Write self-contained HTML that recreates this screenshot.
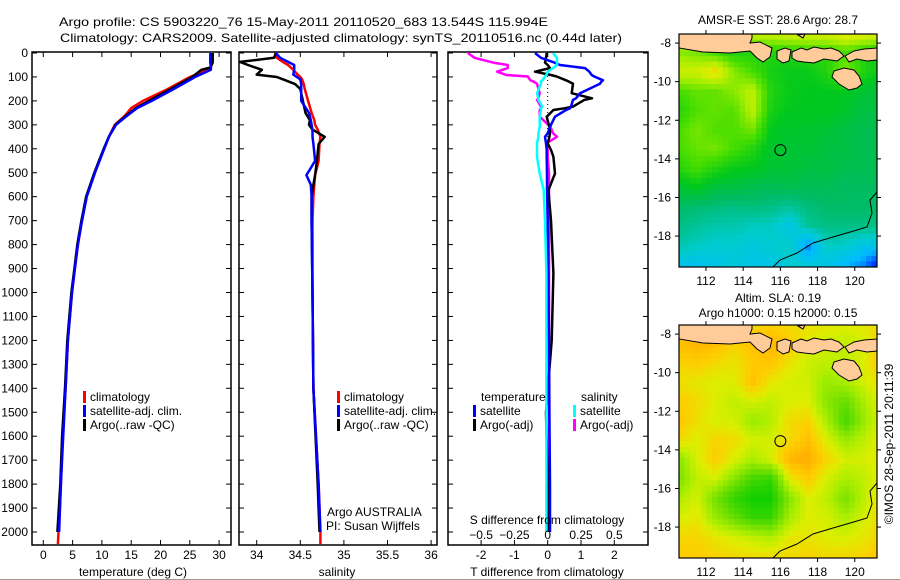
<!DOCTYPE html>
<html><head><meta charset="utf-8"><style>
html,body{margin:0;padding:0;background:#fff;}
svg{display:block;font-family:"Liberation Sans",sans-serif;font-size:12px;}
</style></head><body>
<svg id="fig" width="900" height="580" viewBox="0 0 900 580">
<defs>
<clipPath id="c1"><rect x="32" y="52" width="199" height="493"/></clipPath>
<clipPath id="c2"><rect x="239" y="52" width="198" height="493"/></clipPath>
<clipPath id="c3"><rect x="448" y="52" width="200" height="493"/></clipPath>
</defs>
<text x="59" y="26" textLength="489" lengthAdjust="spacingAndGlyphs">Argo profile: CS 5903220_76 15-May-2011 20110520_683 13.544S 115.994E</text>
<text x="60" y="42" textLength="562" lengthAdjust="spacingAndGlyphs">Climatology: CARS2009. Satellite-adjusted climatology: synTS_20110516.nc (0.44d later)</text>
<g id="g1"></g>
<g id="g2"></g>
<g id="g3"></g>
<g id="m1"></g>
<g id="m2"></g>
<text x="897" y="448" text-anchor="middle" transform="rotate(-90 893 448)">©IMOS 28-Sep-2011 20:11:39</text>
<line x1="0" y1="579.5" x2="900" y2="579.5" stroke="#999"/>
</svg>
<script>
// ---- data ----
const depthLevels=[0,20,40,60,70,100,150,200,230,260,300,350,400,450,500,600,700,800,900,1000,1200,1400,1600,1800,2000,2050];
const tempClim=[28.8,28.8,28.8,28.6,28.2,25.0,21.3,17.0,15.0,14.0,12.2,11.2,10.4,9.5,8.8,7.4,6.6,5.9,5.4,4.9,4.2,3.8,3.3,3.0,2.6,2.5];
const tempSat=[28.5,28.5,28.5,28.6,28.6,25.9,22.3,18.5,16.0,14.4,12.4,11.2,10.4,9.6,8.8,7.4,6.6,5.9,5.4,4.9,4.2,3.8,3.4,3.0,2.7];
const tempArgo=[28.9,28.9,28.9,28.5,27.0,25.4,21.8,18.0,15.8,14.2,12.3,11.2,10.3,9.5,8.7,7.3,6.5,5.8,5.3,4.8,4.1,3.7,3.2,2.9,2.4];
const salDepth=[0,20,37,50,70,90,100,110,130,150,200,250,280,300,320,350,380,450,480,510,550,600,700,1000,1400,1800,2000,2050];
const salClim=[34.21,34.23,34.3,34.36,34.42,34.47,34.5,34.52,34.54,34.55,34.59,34.63,34.66,34.67,34.7,34.73,34.72,34.71,34.69,34.67,34.66,34.65,34.64,34.64,34.65,34.71,34.73,34.73];
const salSat=[34.22,34.27,34.36,34.43,34.43,34.42,34.46,34.5,34.51,34.51,34.51,34.6,34.62,34.63,34.64,34.64,34.65,34.67,34.62,34.57,34.62,34.63,34.63,34.64,34.65,34.71,34.73];
const salArgo=[34.22,34.2,33.81,33.9,34.06,34.0,34.23,34.3,34.44,34.5,34.53,34.56,34.61,34.6,34.64,34.78,34.71,34.69,34.68,34.67,34.65,34.63,34.63,34.64,34.65,34.7,34.72];
const diffDepth=[0,20,40,50,63,78,92,98,114,118,128,168,189,196,224,231,238,266,308,335,350,377,405,433,503,573,700,920,1200,1500,1800,2000];
const dTsat=[-0.38,-0.2,0.2,0.37,1.12,1.25,1.32,1.4,1.66,1.62,1.57,0.97,0.85,0.76,0.7,0.67,0.55,0.22,0.07,0.0,-0.08,-0.05,-0.03,-0.03,-0.02,-0.02,0.0,0.02,0.04,0.05,0.07,0.07];
const dTargo=[-0.03,-0.05,-0.08,0.0,0.07,-0.38,0.1,0.27,0.55,0.62,0.76,0.72,1.33,1.1,0.76,0.5,0.17,-0.03,0.05,0.07,0.05,0.0,0.1,0.17,0.22,0.02,0.1,0.17,0.12,-0.05,0.0,0.0];
const dSsat=[0.04,0.07,0.07,0.07,0.04,0.0,-0.01,-0.02,-0.04,-0.05,-0.05,-0.08,-0.07,-0.07,-0.04,-0.05,-0.05,-0.06,-0.06,-0.07,-0.07,-0.08,-0.08,-0.08,-0.06,-0.03,-0.02,-0.01,-0.01,-0.01,-0.01,-0.01];
const dSargo=[-0.6,-0.55,-0.41,-0.3,-0.3,-0.38,-0.31,-0.15,-0.13,-0.11,-0.08,-0.06,-0.07,-0.08,-0.05,-0.05,-0.06,-0.06,0.02,0.04,0.07,-0.01,0.0,0.0,0.01,0.01,0.01,0.01,0.01,0.01,0.01,0.01];
const depthTicks=[0,100,200,300,400,500,600,700,800,900,1000,1100,1200,1300,1400,1500,1600,1700,1800,1900,2000];
const tempTicks=[0,5,10,15,20,25,30];
const salTicks=[34,34.5,35,35.5,36];
const dTTicks=[-2,-1,0,1,2];
const dSTicks=[-0.5,-0.25,0,0.25,0.5];
const lonTicks=[112,114,116,118,120];
const latTicks=[-8,-10,-12,-14,-16,-18];
const argoLon=116.0, argoLat=-13.544;
const sstTitle="AMSR-E SST: 28.6 Argo: 28.7";
const sstGrid=[
[.82,.82,.85,.82,.8,.8,.82,.82,.82,.85,.85,.82],
[.72,.7,.65,.6,.6,.6,.6,.62,.62,.65,.6,.58],
[.8,.8,.86,.72,.65,.58,.56,.56,.6,.72,.6,.55],
[.65,.68,.68,.72,.78,.6,.56,.55,.55,.55,.52,.5],
[.6,.66,.68,.66,.78,.58,.55,.55,.55,.53,.5,.5],
[.65,.7,.66,.66,.7,.55,.53,.53,.52,.5,.48,.48],
[.65,.68,.7,.65,.6,.53,.52,.52,.5,.5,.48,.48],
[.6,.65,.6,.56,.55,.52,.52,.5,.5,.48,.48,.47],
[.52,.55,.5,.5,.48,.47,.48,.47,.47,.46,.46,.46],
[.45,.44,.43,.42,.43,.42,.4,.43,.45,.45,.45,.45],
[.42,.4,.38,.38,.36,.36,.3,.4,.42,.42,.42,.42],
[.38,.36,.34,.34,.32,.34,.36,.2,.36,.35,.3,.3],
[.3,.28,.3,.32,.3,.3,.34,.32,.3,.25,.2,.05]];
const slaGrid=[
[.7,.7,.75,.7,.7,.72,.7,.68,.65,.62,.65,.7],
[.8,.85,.82,.72,.8,.85,.75,.62,.58,.55,.6,.75],
[.72,.75,.7,.66,.75,.78,.66,.58,.55,.55,.62,.8],
[.68,.65,.62,.62,.8,.65,.6,.58,.45,.5,.6,.68],
[.75,.7,.62,.55,.6,.55,.62,.62,.4,.3,.5,.65],
[.78,.68,.6,.6,.45,.52,.7,.72,.5,.2,.45,.65],
[.7,.62,.72,.7,.6,.6,.7,.8,.62,.45,.55,.65],
[.4,.6,.75,.62,.5,.6,.85,.88,.72,.6,.6,.65],
[.35,.55,.6,.4,.2,.15,.65,.75,.6,.5,.55,.65],
[.5,.6,.35,.15,.05,.05,.4,.62,.55,.35,.55,.7],
[.6,.65,.45,.3,.15,.15,.5,.62,.6,.5,.6,.7],
[.7,.72,.65,.6,.55,.5,.65,.66,.62,.6,.65,.72],
[.75,.75,.72,.7,.68,.68,.7,.72,.7,.7,.72,.8]];

// ---- helpers ----
const NS="http://www.w3.org/2000/svg";
function mk(tag,attrs,parent){const e=document.createElementNS(NS,tag);for(const k in attrs)e.setAttribute(k,attrs[k]);parent.appendChild(e);return e;}
const yD=d=>53+d*0.2395;
const xT=t=>43.3+t*5.86;
const xS=s=>256.7+(s-34)*87.2;
const xDT=v=>547.7+v*33.3;
const xDS=v=>547.7+v*133.2;

function panelFrame(g,x0,x1,yLabels){
  const r=mk('rect',{x:x0,y:52,width:x1-x0,height:493,fill:'none',stroke:'#000','stroke-width':1.5},g);
  
  
  depthTicks.forEach(d=>{
    const y=yD(d);
    const t1=mk('line',{x1:x0,y1:y,x2:x0+5,y2:y,stroke:'#000'},g);
    
    
    const t2=mk('line',{x1:x1-5,y1:y,x2:x1,y2:y,stroke:'#000'},g);
    
    
    if(yLabels){
      const tx=mk('text',{x:28,y:y+4,'text-anchor':'end'},g);tx.textContent=d;
      
      
    }
  });
}
function xTicks(g,vals,fx,labelY,labels){
  vals.forEach(v=>{
    const x=fx(v);
    const a=mk('line',{x1:x,y1:52,x2:x,y2:57,stroke:'#000'},g);
    
    
    const b=mk('line',{x1:x,y1:540,x2:x,y2:545,stroke:'#000'},g);
    
    
    if(labels){const t=mk('text',{x:x,y:labelY,'text-anchor':'middle'},g);t.textContent=v;
      
      }
  });
}
function line(g,xs,ds,fx,color,clip,name){
  const pts=xs.map((v,i)=>fx(v).toFixed(1)+','+yD(ds[i]).toFixed(1)).join(' ');
  const p=mk('polyline',{points:pts,fill:'none',stroke:color,'stroke-width':2.5,'clip-path':'url(#'+clip+')','stroke-linejoin':'round'},g);
  
  
}
function txt(g,x,y,s,anchor,name){const t=mk('text',{x:x,y:y,'text-anchor':anchor||'start'},g);t.textContent=s;
  
  return t;}
function legend(g,x,y,color,label){
  const r=mk('rect',{x:x,y:y-10,width:3,height:12,fill:color},g);
  
  
  txt(g,x+7,y,label,'start','legend-entry');
}

// ---- panel 1 ----
const g1=document.getElementById('g1');
panelFrame(g1,32,231,true);
xTicks(g1,tempTicks,xT,559,true);
line(g1,tempClim,depthLevels,xT,'#f00','c1','temp-climatology-line');
line(g1,tempArgo,depthLevels,xT,'#000','c1','temp-argo-line');
line(g1,tempSat,depthLevels,xT,'#00f','c1','temp-satellite-line');
txt(g1,133,576,'temperature (deg C)','middle','x-axis-title');
legend(g1,83,401,'#f00','climatology');
legend(g1,83,415,'#00f','satellite-adj. clim.');
legend(g1,83,429,'#000','Argo(..raw -QC)');

// ---- panel 2 ----
const g2=document.getElementById('g2');
panelFrame(g2,239,437,false);
xTicks(g2,salTicks,xS,559,true);
line(g2,salClim,salDepth,xS,'#f00','c2','sal-climatology-line');
line(g2,salArgo,salDepth,xS,'#000','c2','sal-argo-line');
line(g2,salSat,salDepth,xS,'#00f','c2','sal-satellite-line');
txt(g2,337,576,'salinity','middle','x-axis-title');
legend(g2,337,401,'#f00','climatology');
legend(g2,337,415,'#00f','satellite-adj. clim.');
legend(g2,337,429,'#000','Argo(..raw -QC)');
txt(g2,327,516,'Argo AUSTRALIA','start','credit-text');
txt(g2,326,530,'PI: Susan Wijffels','start','credit-text');

// ---- panel 3 ----
const g3=document.getElementById('g3');
panelFrame(g3,448,648,false);
xTicks(g3,dTTicks,xDT,559,true);
const zl=mk('line',{x1:547.7,y1:52,x2:547.7,y2:300,stroke:'#000','stroke-dasharray':'1,3'},g3);


line(g3,dSargo,diffDepth,xDS,'#f0f','c3','sal-argo-diff-line');
line(g3,dTargo,diffDepth,xDT,'#000','c3','temp-argo-diff-line');
line(g3,dTsat,diffDepth,xDT,'#00f','c3','temp-satellite-diff-line');
line(g3,dSsat,diffDepth,xDS,'#0ff','c3','sal-satellite-diff-line');
dSTicks.forEach(v=>txt(g3,xDS(v),539,String(v).replace('-','−'),'middle','s-tick-label'));
txt(g3,547,524,'S difference from climatology','middle','s-axis-title');
txt(g3,547,576,'T difference from climatology','middle','x-axis-title');
txt(g3,481,401,'temperature','start','legend-heading');
txt(g3,581,401,'salinity','start','legend-heading');
legend(g3,473,415,'#00f','satellite');
legend(g3,473,429,'#000','Argo(-adj)');
legend(g3,573,415,'#0ff','satellite');
legend(g3,573,429,'#f0f','Argo(-adj)');

// ---- maps ----
const sstPal=[[0,'#000088'],[.12,'#0033ff'],[.25,'#00bbff'],[.35,'#00cccc'],[.45,'#00bb66'],[.55,'#00c81e'],[.65,'#44dd00'],[.75,'#aaee00'],[.82,'#ddee00'],[.9,'#ffaa00'],[1,'#cc0000']];
const slaPal=[[0,'#00cc00'],[.3,'#66dd00'],[.5,'#aaee00'],[.62,'#ddee00'],[.75,'#ffcc00'],[.9,'#ffaa00'],[1,'#ff8800']];
function hex(c){return [1,3,5].map(i=>parseInt(c.substr(i,2),16));}
function col(p,v){v=Math.max(0,Math.min(1,v));for(let i=1;i<p.length;i++){if(v<=p[i][0]){const f=(v-p[i-1][0])/(p[i][0]-p[i-1][0]);const a=hex(p[i-1][1]),b=hex(p[i][1]);return 'rgb('+a.map((x,k)=>Math.round(x+(b[k]-x)*f)).join(',')+')';}}return p[p.length-1][1];}
function samp(G,lon,lat){let fi=-7.5-lat, fj=lon-110.5;fi=Math.max(0,Math.min(12,fi));fj=Math.max(0,Math.min(11,fj));
 const i=Math.min(11,Math.floor(fi)),j=Math.min(10,Math.floor(fj));const a=fi-i,b=fj-j;
 return G[i][j]*(1-a)*(1-b)+G[i][j+1]*(1-a)*b+G[i+1][j]*a*(1-b)+G[i+1][j+1]*a*b;}
const MW=198,MH=233,LON0=110.55,LAT0=-7.53,PXD=18.6,PYD=19.3;
const mx=lon=>(lon-LON0)*PXD, my=lat=>(LAT0-lat)*PYD;
const land=[
[[0,0],[73,0],[73,4],[71,9],[81,8],[93,14],[91,23],[84,28],[78,24],[71,17],[51,19],[24,18],[0,14]],
[[98,17],[106,14],[112,16],[110,27],[104,29],[98,25]],
[[113,18],[122,14],[128,16],[135,13],[145,15],[152,14],[160,17],[165,22],[158,27],[145,25],[135,29],[125,28],[118,27],[113,24]],
[[119,1],[126,0],[124,4]],
[[166,22],[175,17],[185,15],[198,14],[198,26],[188,27],[178,25],[170,28]],
[[155,37],[165,34],[175,36],[180,42],[183,50],[178,54],[170,56],[160,50],[153,43]]];
const ausCoast=[[198,158],[191,166],[193,179],[188,193],[178,196],[154,203],[134,209],[118,219],[101,226],[94,233]];
function drawMap(id,ox,oy,G,pal,titles){
  const g=document.getElementById(id);
  const inner=mk('g',{transform:'translate('+ox+','+oy+')'},g);
  const nc=36,nr=42,cw=MW/nc,ch=MH/nr;
  for(let r=0;r<nr;r++)for(let c=0;c<nc;c++){
    const lon=LON0+(c+0.5)*cw/PXD, lat=LAT0-(r+0.5)*ch/PYD;
    const cell=mk('rect',{x:(c*cw).toFixed(2),y:(r*ch).toFixed(2),width:(cw+0.4).toFixed(2),height:(ch+0.4).toFixed(2),fill:col(pal,samp(G,lon,lat))},inner);
    
    
  }
  land.forEach(poly=>{const p=mk('polygon',{points:poly.map(q=>q.join(',')).join(' '),fill:'#ffcc99',stroke:'#000','stroke-width':1},inner);
    
    });
  const cl=mk('polyline',{points:ausCoast.map(q=>q.join(',')).join(' '),fill:'none',stroke:'#000','stroke-width':1},inner);
  
  
  const ci=mk('circle',{cx:mx(argoLon),cy:my(argoLat),r:5.5,fill:'none',stroke:'#000','stroke-width':1},inner);
  
  
  const fr=mk('rect',{x:0,y:0,width:MW,height:MH,fill:'none',stroke:'#000','stroke-width':1.2},inner);
  
  
  lonTicks.forEach(l=>{const x=mx(l);
    const a=mk('line',{x1:x,y1:MH,x2:x,y2:MH+4,stroke:'#000'},inner);
    
    
    const b=mk('line',{x1:x,y1:0,x2:x,y2:-4,stroke:'#000'},inner);
    
    
    txt(inner,x,MH+18,String(l),'middle','lon-tick-label');});
  latTicks.forEach(l=>{const y=my(l);
    const a=mk('line',{x1:-4,y1:y,x2:0,y2:y,stroke:'#000'},inner);
    
    
    const b=mk('line',{x1:MW,y1:y,x2:MW+4,y2:y,stroke:'#000'},inner);
    
    
    txt(inner,-8,y+4,String(l),'end','lat-tick-label');});
  titles.forEach((t,i)=>txt(g,ox+99,oy-22+15*i+(titles.length===1?12:-1),t,'middle','map-title'));
}
drawMap('m1',679,34,sstGrid,sstPal,[sstTitle]);
drawMap('m2',679,325,slaGrid,slaPal,['Altim. SLA: 0.19','Argo h1000: 0.15 h2000: 0.15']);
</script>
</body></html>
